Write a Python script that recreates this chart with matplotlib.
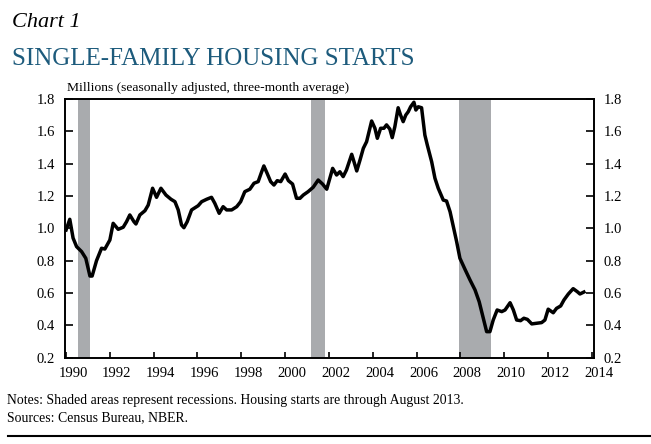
import matplotlib
matplotlib.use("Agg")
import matplotlib.pyplot as plt
from matplotlib.transforms import ScaledTranslation

plt.rcParams['font.family'] = ['Liberation Serif', 'DejaVu Serif']

# single-family housing starts, millions
years = [1990.00, 1990.17, 1990.32, 1990.48, 1990.71, 1990.90, 1991.09, 1991.19,
         1991.39, 1991.62, 1991.77, 1992.00, 1992.15, 1992.38, 1992.61, 1992.76,
         1992.91, 1993.10, 1993.19, 1993.37, 1993.60, 1993.75, 1993.95, 1994.13,
         1994.33, 1994.56, 1994.79, 1994.97, 1995.12, 1995.27, 1995.38, 1995.53,
         1995.73, 1996.03, 1996.19, 1996.42, 1996.64, 1996.79, 1996.99, 1997.17,
         1997.33, 1997.56, 1997.79, 1997.97, 1998.16, 1998.39, 1998.58, 1998.77,
         1998.93, 1999.03, 1999.18, 1999.34, 1999.49, 1999.64, 1999.80, 2000.00,
         2000.15, 2000.34, 2000.52, 2000.68, 2000.83, 2001.05, 2001.28, 2001.51,
         2001.71, 2001.90, 2002.17, 2002.35, 2002.50, 2002.65, 2002.80, 2003.04,
         2003.12, 2003.27, 2003.42, 2003.57, 2003.72, 2003.95, 2004.10, 2004.21,
         2004.36, 2004.51, 2004.63, 2004.78, 2004.89, 2005.01, 2005.16, 2005.27,
         2005.39, 2005.51, 2005.62, 2005.73, 2005.88, 2005.97, 2006.08, 2006.23,
         2006.38, 2006.49, 2006.69, 2006.84, 2006.99, 2007.22, 2007.37, 2007.53,
         2007.68, 2007.83, 2007.98, 2008.21, 2008.44, 2008.67, 2008.86, 2009.05,
         2009.20, 2009.35, 2009.50, 2009.68, 2009.89, 2010.04, 2010.27, 2010.42,
         2010.57, 2010.75, 2010.90, 2011.06, 2011.26, 2011.48, 2011.71, 2011.86,
         2012.01, 2012.24, 2012.39, 2012.58, 2012.73, 2012.93, 2013.15, 2013.34,
         2013.46, 2013.64]
starts = [0.99, 1.056, 0.94, 0.887, 0.856, 0.815, 0.705, 0.705,
          0.80, 0.877, 0.872, 0.928, 1.031, 0.994, 1.007, 1.041,
          1.083, 1.041, 1.027, 1.083, 1.109, 1.144, 1.248, 1.192,
          1.248, 1.206, 1.18, 1.165, 1.114, 1.021, 1.004, 1.041,
          1.114, 1.14, 1.165, 1.18, 1.192, 1.155, 1.093, 1.134,
          1.114, 1.114, 1.134, 1.165, 1.227, 1.242, 1.279, 1.289,
          1.35, 1.386, 1.34, 1.289, 1.268, 1.295, 1.289, 1.336,
          1.295, 1.274, 1.186, 1.186, 1.206, 1.227, 1.254, 1.299,
          1.274, 1.242, 1.371, 1.33, 1.35, 1.32, 1.361, 1.458,
          1.423, 1.355, 1.423, 1.495, 1.536, 1.664, 1.619, 1.557,
          1.619, 1.619, 1.64, 1.614, 1.561, 1.629, 1.746, 1.701,
          1.66, 1.701, 1.721, 1.752, 1.78, 1.732, 1.752, 1.746,
          1.577, 1.516, 1.412, 1.31, 1.248, 1.175, 1.169, 1.103,
          1.01, 0.918, 0.815, 0.747, 0.681, 0.619, 0.546, 0.444,
          0.361, 0.361, 0.433, 0.495, 0.485, 0.495, 0.54, 0.495,
          0.433, 0.429, 0.444, 0.437, 0.409, 0.413, 0.417, 0.433,
          0.50, 0.478, 0.505, 0.52, 0.557, 0.594, 0.627, 0.608,
          0.594, 0.606]

recessions = [(1990.54, 1991.10), (2001.18, 2001.84), (2007.94, 2009.40)]
xticks = list(range(1990, 2015, 2))
yticks = [0.2, 0.4, 0.6, 0.8, 1.0, 1.2, 1.4, 1.6, 1.8]

fig = plt.figure(figsize=(6.51, 4.44), dpi=100)
ax = fig.add_axes([0.0998, 0.1944, 0.8126, 0.5826])

for start, end in recessions:
    ax.axvspan(start, end, color="#a9abae", lw=0)
ax.plot(years, starts, color="black", lw=2.5, solid_joinstyle="round")

ax.set_xlim(1989.95, 2014.1)
ax.set_ylim(0.2, 1.8)
ax.set_xticks(xticks)
ax.set_yticks(yticks)
ax.set_yticklabels([f"{v:.1f}" for v in yticks])
ax.tick_params(axis="x", direction="in", length=4, width=1.2, pad=7, labelsize=10.5)
ax.tick_params(axis="y", direction="in", length=5.5, width=1.2, labelsize=10.5,
               left=True, right=True, labelleft=True, labelright=True, pad=7)
for sp in ax.spines.values():
    sp.set_linewidth(1.4)

# year labels sit a little right of their ticks in the original
shift = ScaledTranslation(7 / 100, 0, fig.dpi_scale_trans)
for lab in ax.get_xticklabels():
    lab.set_transform(lab.get_transform() + shift)

fig.text(0.018, 0.939, "Chart 1", fontsize=16, style="italic", color="black")
fig.text(0.018, 0.854, "SINGLE-FAMILY HOUSING STARTS", fontsize=18, color="#1d5b7c")
fig.text(0.103, 0.794, "Millions (seasonally adjusted, three-month average)", fontsize=9.7)
fig.text(0.011, 0.09, "Notes: Shaded areas represent recessions. Housing starts are through August 2013.",
         fontsize=9.9)
fig.text(0.011, 0.052, "Sources: Census Bureau, NBER.", fontsize=9.9)
fig.add_artist(plt.Line2D([0.012, 1.0], [0.018, 0.018], color="black", lw=1.5))

fig.savefig("out.png", dpi=100)
